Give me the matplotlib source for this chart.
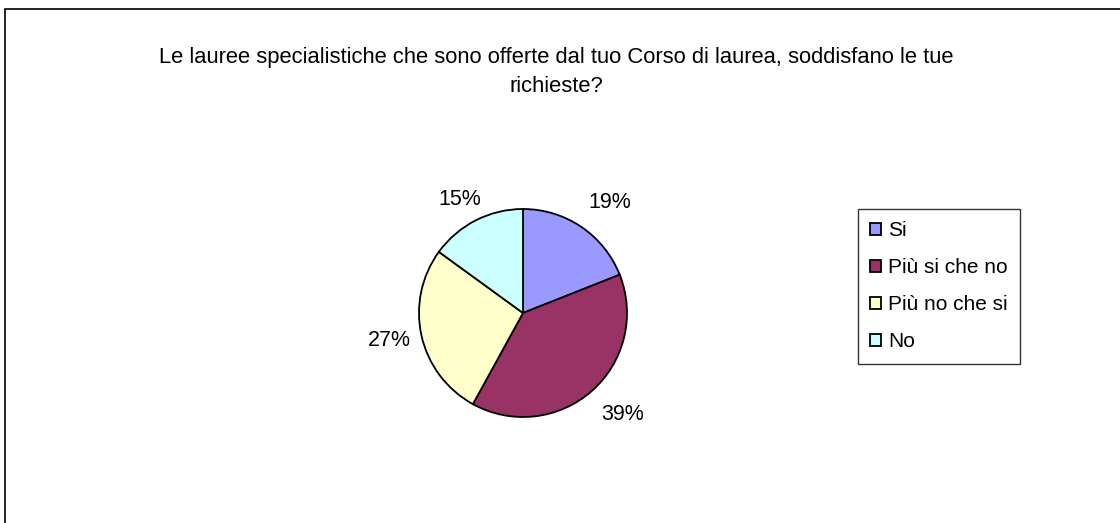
import matplotlib
matplotlib.use("Agg")
import matplotlib.pyplot as plt
from matplotlib.patches import Rectangle
import numpy as np

plt.rcParams['font.family'] = ['Liberation Sans', 'DejaVu Sans']

# data
categories = ["Si", "Più si che no", "Più no che si", "No"]
shares = [19, 39, 27, 15]
colors = ["#9999FF", "#993366", "#FFFFCC", "#CCFFFF"]
title = ("Le lauree specialistiche che sono offerte dal tuo Corso di laurea, soddisfano le tue\n"
         "richieste?")

W, H = 1120, 523
fig = plt.figure(figsize=(W / 100, H / 100), dpi=100)

# outer chart frame (runs off the right / bottom edge like the original)
fig.patches.append(Rectangle((5 / W, -0.05), 1.1, (H - 9) / H + 0.05, transform=fig.transFigure,
                             fill=False, edgecolor="black", linewidth=1.2))

fig.text(556 / W, 1 - 72 / H, title, ha="center", va="center", fontsize=15.8, linespacing=1.45)

# pie: centre ~(523, 313) px, radius ~104 px
cx, cy, r = 523, 313, 104
ax = fig.add_axes([(cx - r) / W, (H - cy - r) / H, 2 * r / W, 2 * r / H])
wedges, _ = ax.pie(shares, colors=colors, startangle=90, counterclock=False,
                   wedgeprops=dict(edgecolor="black", linewidth=1.3))
ax.set_xlim(-1, 1)
ax.set_ylim(-1, 1)
ax.set_aspect("equal")
ax.axis("off")

# percentage labels just outside each slice (small nudges like excel's best fit)
nudge = [-4, 3, -1, 2]
dist = [1.35, 1.37, 1.31, 1.25]
for w, s, n, d in zip(wedges, shares, nudge, dist):
    ang = np.deg2rad((w.theta1 + w.theta2) / 2 + n)
    ax.text(d * np.cos(ang), d * np.sin(ang), f"{s}%", ha="center", va="center",
            fontsize=15.5, clip_on=False)

leg = fig.legend(wedges, categories, loc="upper left", bbox_to_anchor=(858 / W, 1 - 209 / H),
                 frameon=True, fancybox=False, edgecolor="black", fontsize=15,
                 handlelength=0.5, handleheight=0.5, handletextpad=0.35,
                 labelspacing=0.87, borderpad=0.58, borderaxespad=0)
leg.get_frame().set_linewidth(1.0)

fig.savefig("out.png", dpi=100)
